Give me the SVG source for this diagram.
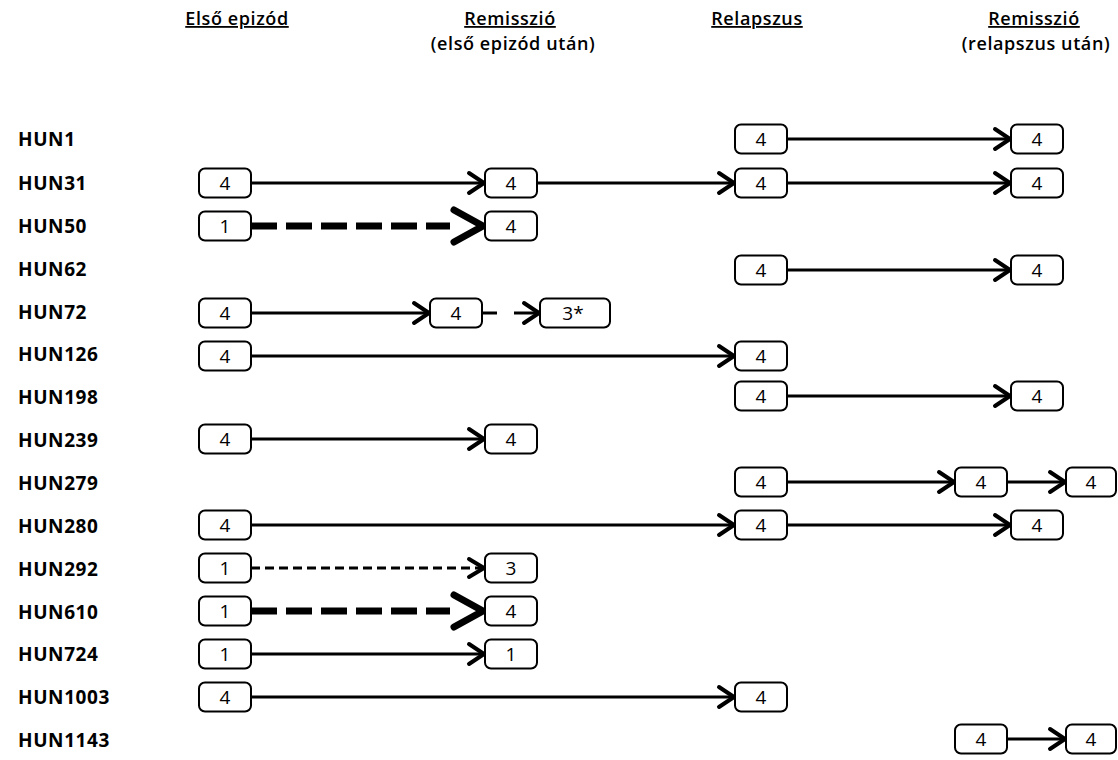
<svg xmlns="http://www.w3.org/2000/svg" width="1118" height="760" viewBox="0 0 1118 760">
<defs>
<style>
.hd{font-family:"Open Sans","Liberation Sans",sans-serif;font-size:18px;font-weight:600;text-anchor:middle;fill:#000;letter-spacing:0.6px}
.u{text-decoration:underline}
.lb{font-family:"Open Sans","Liberation Sans",sans-serif;font-size:19px;font-weight:700;fill:#000;letter-spacing:0.6px}
.bx rect{fill:#fff;stroke:#000;stroke-width:2}
.bx text{font-family:"Open Sans","Liberation Sans",sans-serif;font-size:19px;font-weight:500;text-anchor:middle;fill:#000}
.c{fill:none;stroke:#000;stroke-width:3}
.thick{stroke-width:7;stroke-dasharray:26 9}
.thin{stroke-dasharray:9 5}
</style>
<marker id="ah" markerUnits="userSpaceOnUse" markerWidth="20" markerHeight="24" refX="16" refY="10" orient="auto" viewBox="0 0 20 24" overflow="visible">
<path d="M1,0 L16,10 L1,20" fill="none" stroke="#000" stroke-width="4" stroke-linecap="round" stroke-linejoin="round"/>
</marker>
</defs>
<rect width="1118" height="760" fill="#fff"/>
<g id="headers">
<text class="hd u" x="237" y="25">Első epizód</text>
<text class="hd u" x="510" y="25">Remisszió</text>
<text class="hd" x="513" y="50">(első epizód után)</text>
<text class="hd u" x="757" y="25">Relapszus</text>
<text class="hd u" x="1034" y="25">Remisszió</text>
<text class="hd" x="1036" y="50">(relapszus után)</text>
</g>
<g id="labels">
<text class="lb" x="18" y="146">HUN1</text>
<text class="lb" x="18" y="190">HUN31</text>
<text class="lb" x="18" y="233">HUN50</text>
<text class="lb" x="18" y="276">HUN62</text>
<text class="lb" x="18" y="319">HUN72</text>
<text class="lb" x="18" y="361">HUN126</text>
<text class="lb" x="18" y="404">HUN198</text>
<text class="lb" x="18" y="447">HUN239</text>
<text class="lb" x="18" y="490">HUN279</text>
<text class="lb" x="18" y="533">HUN280</text>
<text class="lb" x="18" y="576">HUN292</text>
<text class="lb" x="18" y="619">HUN610</text>
<text class="lb" x="18" y="661">HUN724</text>
<text class="lb" x="18" y="704">HUN1003</text>
<text class="lb" x="18" y="747">HUN1143</text>
</g>
<g id="connectors">
<line class="c" x1="787" y1="139" x2="1010" y2="139" marker-end="url(#ah)"/>
<line class="c" x1="251" y1="183" x2="484" y2="183" marker-end="url(#ah)"/>
<line class="c" x1="537" y1="183" x2="734" y2="183" marker-end="url(#ah)"/>
<line class="c" x1="787" y1="183" x2="1010" y2="183" marker-end="url(#ah)"/>
<line class="c thick" x1="251" y1="226" x2="450" y2="226"/>
<polyline class="c" points="454,210 483,226 454,242" style="stroke-width:7;stroke-linecap:round;stroke-linejoin:round"/>
<line class="c" x1="787" y1="270" x2="1010" y2="270" marker-end="url(#ah)"/>
<line class="c" x1="251" y1="313" x2="429" y2="313" marker-end="url(#ah)"/>
<line class="c" x1="482" y1="313" x2="497" y2="313"/>
<line class="c" x1="514" y1="313" x2="539" y2="313" marker-end="url(#ah)"/>
<line class="c" x1="251" y1="356" x2="734" y2="356" marker-end="url(#ah)"/>
<line class="c" x1="787" y1="396" x2="1010" y2="396" marker-end="url(#ah)"/>
<line class="c" x1="251" y1="439" x2="484" y2="439" marker-end="url(#ah)"/>
<line class="c" x1="787" y1="482" x2="954" y2="482" marker-end="url(#ah)"/>
<line class="c" x1="1007" y1="482" x2="1065" y2="482" marker-end="url(#ah)"/>
<line class="c" x1="251" y1="525" x2="734" y2="525" marker-end="url(#ah)"/>
<line class="c" x1="787" y1="525" x2="1010" y2="525" marker-end="url(#ah)"/>
<line class="c thin" x1="251" y1="568" x2="482" y2="568"/>
<polyline class="c" points="469,559 484,568 469,577" style="stroke-width:4;stroke-linecap:round;stroke-linejoin:round"/>
<line class="c thick" x1="251" y1="611" x2="450" y2="611"/>
<polyline class="c" points="454,595 483,611 454,627" style="stroke-width:7;stroke-linecap:round;stroke-linejoin:round"/>
<line class="c" x1="251" y1="654" x2="484" y2="654" marker-end="url(#ah)"/>
<line class="c" x1="251" y1="697" x2="734" y2="697" marker-end="url(#ah)"/>
<line class="c" x1="1007" y1="739" x2="1065" y2="739" marker-end="url(#ah)"/>
</g>
<g id="n-hun1-r" class="bx"><rect x="735" y="124.5" width="52" height="29" rx="6"/><text x="761" y="146">4</text></g>
<g id="n-hun1-rr" class="bx"><rect x="1011" y="124.5" width="52" height="29" rx="6"/><text x="1037" y="146">4</text></g>
<g id="n-hun31-e" class="bx"><rect x="199" y="168.5" width="52" height="29" rx="6"/><text x="225" y="190">4</text></g>
<g id="n-hun31-re" class="bx"><rect x="485" y="168.5" width="52" height="29" rx="6"/><text x="511" y="190">4</text></g>
<g id="n-hun31-r" class="bx"><rect x="735" y="168.5" width="52" height="29" rx="6"/><text x="761" y="190">4</text></g>
<g id="n-hun31-rr" class="bx"><rect x="1011" y="168.5" width="52" height="29" rx="6"/><text x="1037" y="190">4</text></g>
<g id="n-hun50-e" class="bx"><rect x="199" y="211.5" width="52" height="29" rx="6"/><text x="225" y="233">1</text></g>
<g id="n-hun50-re" class="bx"><rect x="485" y="211.5" width="52" height="29" rx="6"/><text x="511" y="233">4</text></g>
<g id="n-hun62-r" class="bx"><rect x="735" y="255.5" width="52" height="29" rx="6"/><text x="761" y="277">4</text></g>
<g id="n-hun62-rr" class="bx"><rect x="1011" y="255.5" width="52" height="29" rx="6"/><text x="1037" y="277">4</text></g>
<g id="n-hun72-e" class="bx"><rect x="199" y="298.5" width="52" height="29" rx="6"/><text x="225" y="320">4</text></g>
<g id="n-hun72-re" class="bx"><rect x="430" y="298.5" width="52" height="29" rx="6"/><text x="456" y="320">4</text></g>
<g id="n-hun72-x" class="bx"><rect x="540" y="298.5" width="70" height="29" rx="6"/><text x="573" y="320">3*</text></g>
<g id="n-hun126-e" class="bx"><rect x="199" y="341.5" width="52" height="29" rx="6"/><text x="225" y="363">4</text></g>
<g id="n-hun126-r" class="bx"><rect x="735" y="341.5" width="52" height="29" rx="6"/><text x="761" y="363">4</text></g>
<g id="n-hun198-r" class="bx"><rect x="735" y="381.5" width="52" height="29" rx="6"/><text x="761" y="403">4</text></g>
<g id="n-hun198-rr" class="bx"><rect x="1011" y="381.5" width="52" height="29" rx="6"/><text x="1037" y="403">4</text></g>
<g id="n-hun239-e" class="bx"><rect x="199" y="424.5" width="52" height="29" rx="6"/><text x="225" y="446">4</text></g>
<g id="n-hun239-re" class="bx"><rect x="485" y="424.5" width="52" height="29" rx="6"/><text x="511" y="446">4</text></g>
<g id="n-hun279-r" class="bx"><rect x="735" y="467.5" width="52" height="29" rx="6"/><text x="761" y="489">4</text></g>
<g id="n-hun279-rr" class="bx"><rect x="955" y="467.5" width="52" height="29" rx="6"/><text x="981" y="489">4</text></g>
<g id="n-hun279-rr2" class="bx"><rect x="1066" y="467.5" width="50" height="29" rx="6"/><text x="1091" y="489">4</text></g>
<g id="n-hun280-e" class="bx"><rect x="199" y="510.5" width="52" height="29" rx="6"/><text x="225" y="532">4</text></g>
<g id="n-hun280-r" class="bx"><rect x="735" y="510.5" width="52" height="29" rx="6"/><text x="761" y="532">4</text></g>
<g id="n-hun280-rr" class="bx"><rect x="1011" y="510.5" width="52" height="29" rx="6"/><text x="1037" y="532">4</text></g>
<g id="n-hun292-e" class="bx"><rect x="199" y="553.5" width="52" height="29" rx="6"/><text x="225" y="575">1</text></g>
<g id="n-hun292-re" class="bx"><rect x="485" y="553.5" width="52" height="29" rx="6"/><text x="511" y="575">3</text></g>
<g id="n-hun610-e" class="bx"><rect x="199" y="596.5" width="52" height="29" rx="6"/><text x="225" y="618">1</text></g>
<g id="n-hun610-re" class="bx"><rect x="485" y="596.5" width="52" height="29" rx="6"/><text x="511" y="618">4</text></g>
<g id="n-hun724-e" class="bx"><rect x="199" y="639.5" width="52" height="29" rx="6"/><text x="225" y="661">1</text></g>
<g id="n-hun724-re" class="bx"><rect x="485" y="639.5" width="52" height="29" rx="6"/><text x="511" y="661">1</text></g>
<g id="n-hun1003-e" class="bx"><rect x="199" y="682.5" width="52" height="29" rx="6"/><text x="225" y="704">4</text></g>
<g id="n-hun1003-r" class="bx"><rect x="735" y="682.5" width="52" height="29" rx="6"/><text x="761" y="704">4</text></g>
<g id="n-hun1143-rr" class="bx"><rect x="955" y="724.5" width="52" height="29" rx="6"/><text x="981" y="746">4</text></g>
<g id="n-hun1143-rr2" class="bx"><rect x="1066" y="724.5" width="50" height="29" rx="6"/><text x="1091" y="746">4</text></g>
</svg>
